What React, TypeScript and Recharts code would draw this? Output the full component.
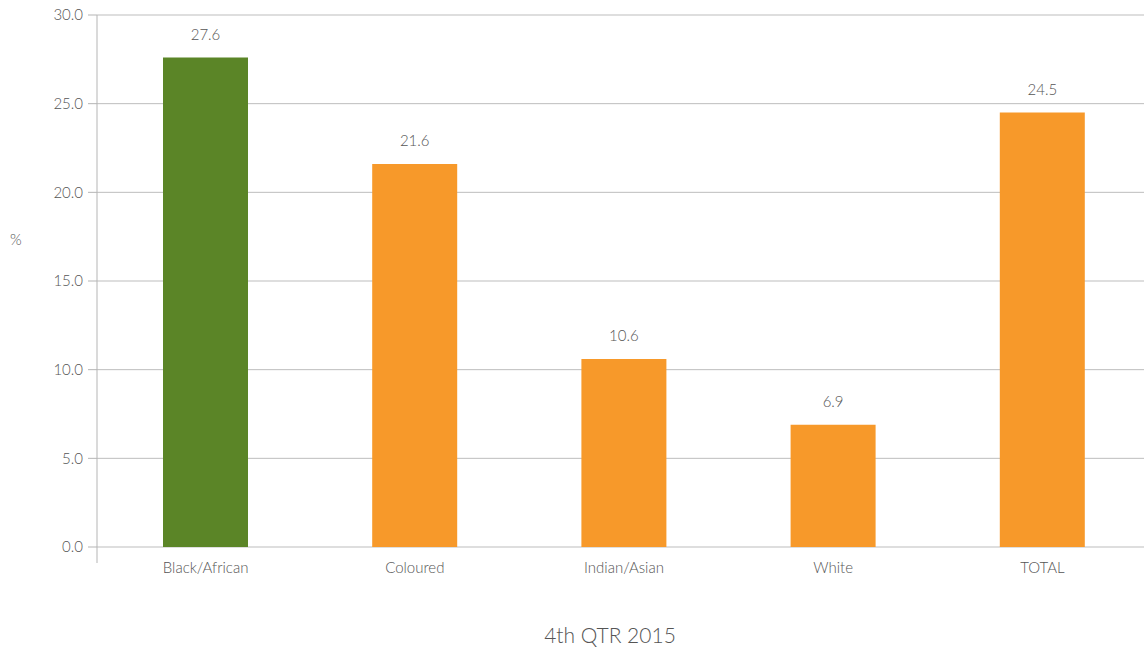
import { Bar, BarChart, CartesianGrid, Cell, LabelList, XAxis, YAxis, usePlotArea } from 'recharts'

const categories = ['Black/African', 'Coloured', 'Indian/Asian', 'White', 'TOTAL']
const rates = [27.6, 21.6, 10.6, 6.9, 24.5]
const yTicks = [0, 5, 10, 15, 20, 25, 30]
const highlight = 'Black/African'

const data = categories.map((name, i) => ({ name, value: rates[i] }))

const GREEN = '#5b8527'
const ORANGE = '#f7992a'
const TEXT = '#555555'
const FONT = 'Lato, "Open Sans", sans-serif'
const WEIGHT = 300

// y axis line runs a little past the zero line in the original
function AxisTail() {
  const area = usePlotArea()
  if (!area) return null
  const x = area.x
  return <line x1={x} x2={x} y1={area.y} y2={area.y + area.height + 16} stroke='#b5b5b5' strokeWidth={1} />
}

export default function App() {
  return (
    <div style={{ position: 'absolute', left: 0, top: 0, fontFamily: FONT }}>
      <BarChart width={1144} height={650} data={data} margin={{ top: 15, right: -3, bottom: 0, left: 0 }}>
        <CartesianGrid vertical={false} stroke='#bdbdbd' strokeWidth={1} />
        <XAxis
          dataKey='name'
          height={103}
          padding={{ left: 4, right: 0 }}
          axisLine={false}
          tickLine={false}
          tickMargin={9}
          tick={{ fill: TEXT, fontSize: 15, fontFamily: FONT, fontWeight: WEIGHT }}
          label={{ value: '4th QTR 2015', position: 'insideBottom', offset: 7, dx: -12, fill: TEXT, fontSize: 21, fontFamily: FONT, fontWeight: WEIGHT }}
        />
        <YAxis
          width={97}
          domain={[0, 30]}
          ticks={yTicks}
          interval={0}
          tickFormatter={(v) => Number(v).toFixed(1)}
          axisLine={false}
          tickSize={9}
          tickMargin={5}
          tickLine={{ stroke: '#b5b5b5' }}
          tick={{ fill: TEXT, fontSize: 15, fontFamily: FONT, fontWeight: WEIGHT }}
          label={{ value: '%', position: 'insideLeft', offset: 10, dy: -41, fill: TEXT, fontSize: 15, fontFamily: FONT, fontWeight: WEIGHT }}
        />
        <Bar dataKey='value' barSize={85} isAnimationActive={false}>
          {data.map((d) => (
            <Cell key={d.name} fill={d.name === highlight ? GREEN : ORANGE} />
          ))}
          <LabelList dataKey='value' position='top' offset={18} formatter={(v: any) => Number(v).toFixed(1)} fill={TEXT} fontSize={15} fontFamily={FONT} fontWeight={WEIGHT} />
        </Bar>
        <AxisTail />
      </BarChart>
    </div>
  )
}
